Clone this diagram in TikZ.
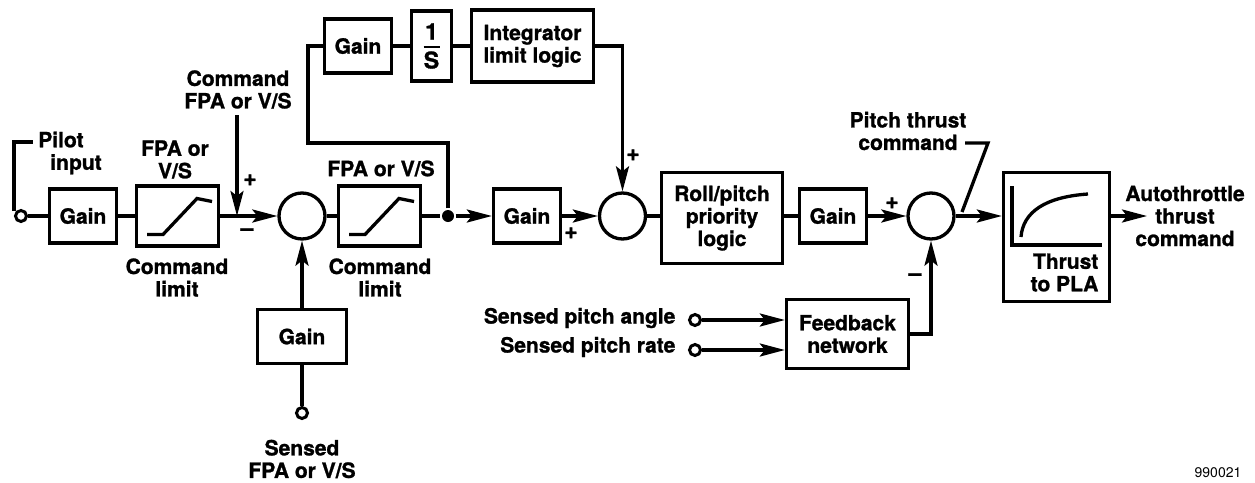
\documentclass[tikz,border=0pt]{standalone}
\usepackage{fontspec}
\setmainfont{TeX Gyre Heros}[BoldFeatures={FakeBold=1.2}]
\usetikzlibrary{arrows.meta,calc}
\begin{document}
\begin{tikzpicture}[x=1pt,y=-1pt,line width=3.3pt,
  font=\bfseries\fontsize{21}{22.5}\selectfont,
  >={Stealth[length=25pt,width=13pt,inset=5pt]},
  blk/.style={draw,line width=3.3pt,inner sep=0pt,align=center},
  sumj/.style={circle,draw,line width=3.3pt,minimum size=46pt,inner sep=0pt},
  port/.style={circle,draw,line width=3pt,minimum size=11pt,inner sep=0pt},
  jdotst/.style={circle,fill,minimum size=12pt,inner sep=0pt},
  lbl/.style={inner sep=0pt,align=center},
  sgn/.style={inner sep=0pt,font=\bfseries\fontsize{23}{23}\selectfont},
  gainbox/.style={blk,minimum width=67pt,minimum height=54pt},
  limbox/.style={blk,minimum width=82pt,minimum height=60pt}]
\useasboundingbox (0,0) rectangle (1255,482);
\fill[white] (0,0) rectangle (1255,482);

% blocks
\node[port] (pin) at (21,216) {};
\node[gainbox] (g1) at (83,216) {Gain};
\node[limbox] (lim1) at (177.5,216) {};
\node[sumj] (sum1) at (302,216) {};
\node[limbox] (lim2) at (379.5,216) {};
\node[jdotst] (jd) at (448,216) {};
\node[gainbox] (g2) at (527,216) {Gain};
\node[sumj] (sum2) at (622.5,216) {};
\node[blk,minimum width=121pt,minimum height=91pt] (roll) at (722,218) {Roll/pitch\\priority\\logic};
\node[gainbox] (g4) at (833,216) {Gain};
\node[sumj] (sum3) at (931,216) {};
\node[blk,minimum width=106pt,minimum height=129pt] (thr) at (1056.5,237) {};
\node[gainbox] (gt) at (358,46) {Gain};
\node[blk,minimum width=40pt,minimum height=70pt] (inv) at (431.5,46) {\fontsize{23}{23}\selectfont\shortstack{1\\[3pt]\rule{16pt}{2.8pt}\\S}};
\node[blk,minimum width=122pt,minimum height=72pt] (integ) at (532.5,46) {Integrator\\limit logic};
\node[blk,minimum width=89pt,minimum height=54pt] (g3) at (302,336.5) {Gain};
\node[port] (ps) at (302,413) {};
\node[blk,minimum width=122pt,minimum height=69pt] (fb) at (847.5,334) {Feedback\\network};
\node[port] (pa) at (695,320) {};
\node[port] (pr) at (695,350) {};

% ramps inside limit boxes
\draw ($(lim1.center)+(-30.5,18.5)$) -- ++(16,0) -- ++(34,-36) -- ++(15,3);
\draw ($(lim2.center)+(-30.5,18.5)$) -- ++(16,0) -- ++(34,-36) -- ++(15,3);
% thrust curve
\draw (1012,186) -- (1012,245) -- (1102,245);
\draw (1021,237) .. controls (1023,212) and (1045,197) .. (1088,194);

% labels
\node[lbl,align=left] (pilot) at (70,153) {Pilot\\\hspace*{12pt}input};
\node[lbl] (cmd) at (238,89.5) {Command\\FPA or V/S};
\node[lbl] (fpa1) at (175,159.5) {FPA or\\V/S};
\node[lbl] (cl1) at (177,277.5) {Command\\limit};
\node[lbl] (fpa2) at (381,168.5) {FPA or V/S};
\node[lbl] (cl2) at (380,277.5) {Command\\limit};
\node[lbl] (sfpa) at (302,459) {Sensed\\FPA or V/S};
\node[lbl,anchor=east] (spa) at (677,318) {Sensed pitch angle};
\node[lbl,anchor=east] (spr) at (677,347) {Sensed pitch rate};
\node[lbl] (ptc) at (908,131) {Pitch thrust\\command};
\node[lbl] (atc) at (1185,216) {Autothrottle\\thrust\\command};
\node[lbl,anchor=east,align=right] (tpla) at (1100,272.5) {Thrust\\to PLA};
\node[lbl,font=\fontsize{14}{14}\selectfont] (idn) at (1218,473) {990021};

% signs
\node[sgn] (sa) at (250,180) {+};
\node[sgn] (sb) at (247,232) {--};
\node[sgn] (sc) at (633,155) {+};
\node[sgn] (sd) at (571,233) {+};
\node[sgn] (se) at (892,203) {+};
\node[sgn] (sf) at (915,277) {--};

% connectors
\coordinate (pl) at (33,142);
\coordinate (pdn) at (14,211);
\draw (pdn) |- (pl);
\draw (pin) -- (g1);
\draw (g1) -- (lim1);
\draw[->] (lim1) -- (sum1);
\coordinate (cmdin) at (237,115);
\draw[->] (cmdin) -- (cmdin |- sum1.center);
\draw (sum1) -- (lim2);
\draw (lim2) -- (jd);
\draw[->] (jd) -- (g2);
\draw[->] (g2) -- (sum2);
\coordinate (fbk) at (308,143);
\draw (jd) |- (fbk) |- (gt.west);
\draw (gt) -- (inv);
\draw (inv) -- (integ);
\draw[->] (integ.east) -| (sum2.north);
\draw (sum2.east) -- (sum2.east -| roll.west);
\draw (roll.east |- g4) -- (g4);
\draw[->] (g4) -- (sum3);
\draw[->] (sum3.east) -- (sum3.east -| thr.west);
\coordinate (outend) at (1147,216);
\draw[->] (thr.east |- sum3) -- (outend);
\draw[->] (pa) -- (pa -| fb.west);
\draw[->] (pr) -- (pr -| fb.west);
\draw[->] (fb.east) -| (sum3.south);
\draw (ps) -- (g3);
\draw[->] (g3) -- (sum1);
\coordinate (pt1) at (965,143);
\coordinate (pt2) at (988,143);
\coordinate (pt3) at (962,212);
\draw (pt1) -- (pt2) -- (pt3);
\end{tikzpicture}
\end{document}
